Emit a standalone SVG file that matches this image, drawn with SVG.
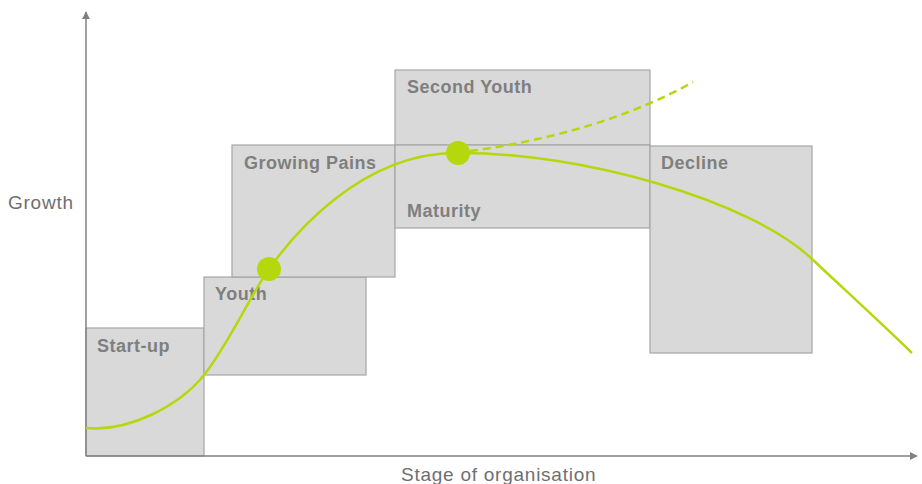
<svg xmlns="http://www.w3.org/2000/svg" width="922" height="484" viewBox="0 0 922 484">
<style>
.box{fill:#d9d9d9;stroke:#a6a6a6;stroke-width:1.2}
.lbl{font-family:"Liberation Sans",Arial,sans-serif;font-weight:bold;font-size:18px;fill:#7f7f7f;letter-spacing:0.5px}
.ax{font-family:"Liberation Sans",Arial,sans-serif;font-size:19px;fill:#6f6f6f;letter-spacing:0.75px}
.axis{stroke:#808080;stroke-width:1.5;fill:none}
.curve{fill:none;stroke:#b4d80c;stroke-width:2.5}
</style>
<defs>
<marker id="arr" viewBox="0 0 10 10" refX="9" refY="5" markerWidth="8" markerHeight="8" markerUnits="userSpaceOnUse" orient="auto"><path d="M0,0 L10,5 L0,10 z" fill="#808080"/></marker>
</defs>
<rect width="922" height="484" fill="#ffffff"/>
<g id="start-up"><rect class="box" x="86" y="328" width="118" height="128"/><text class="lbl" x="97" y="352">Start-up</text></g>
<g id="youth"><rect class="box" x="204" y="277" width="162" height="98"/><text class="lbl" x="215" y="300">Youth</text></g>
<g id="growing-pains"><rect class="box" x="232" y="145" width="163" height="132"/><text class="lbl" x="244" y="168.5">Growing Pains</text></g>
<g id="second-youth"><rect class="box" x="395" y="70" width="255" height="75"/><text class="lbl" x="407" y="92.5">Second Youth</text></g>
<g id="maturity"><rect class="box" x="395" y="145" width="255" height="83"/><text class="lbl" x="407" y="217">Maturity</text></g>
<g id="decline"><rect class="box" x="650" y="146" width="162" height="207"/><text class="lbl" x="661" y="168.5">Decline</text></g>
<g id="axes">
<line class="axis" x1="86" y1="456" x2="86" y2="12" marker-end="url(#arr)"/>
<line class="axis" x1="86" y1="456" x2="917" y2="456" marker-end="url(#arr)"/>
<text class="ax" x="8" y="209">Growth</text>
<text class="ax" x="401" y="481">Stage of organisation</text>
</g>
<g id="connectors">
<path class="curve" d="M86,428 C130,432 180,405 204,375 C228,345 250,296 269,269 C291,238 360,152 458,153 C580,152 750,200 812,259 C845,290 880,322 912,353"/>
<path class="curve" stroke-dasharray="8,5" d="M470,151 C545,141 625,120 693,82"/>
<circle cx="269" cy="269" r="12" fill="#b4d80c"/>
<circle cx="458" cy="153" r="12" fill="#b4d80c"/>
</g>
</svg>
